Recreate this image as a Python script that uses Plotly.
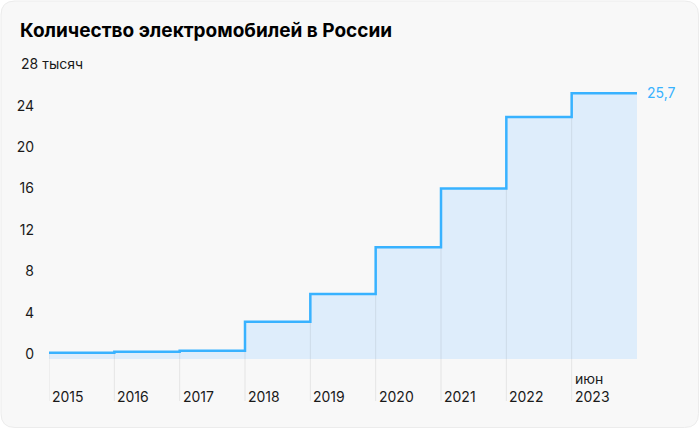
import plotly.graph_objects as go

years = ["2015", "2016", "2017", "2018", "2019", "2020", "2021", "2022", "июн<br>2023"]
cars = [0.6, 0.7, 0.8, 3.6, 6.3, 10.8, 16.5, 23.4, 25.7]  # тысяч
ytick_vals = [0, 4, 8, 12, 16, 20, 24]
top_label = "28 тысяч"
last_label = "25,7"

W, H = 700, 429
ML, MR, MT, MB = 49, 63, 60, 28
Y_MIN, Y_MAX = -4.06, 28.92

LINE = "#38b2ff"
FILL = "#deedfb"
TEXT = "#1a1a1a"
FONT = "Inter"

x = list(range(len(cars) + 1))
y = cars + [cars[-1]]

fig = go.Figure()

# area under the steps
fig.add_trace(go.Scatter(
    x=x, y=y, mode="lines", line=dict(width=0, shape="hv"),
    fill="tozeroy", fillcolor=FILL, hoverinfo="skip", showlegend=False
))

# vertical separators from step down below the axis
gx, gy = [], []
for i, v in enumerate(cars):
    gx += [i, i, None]
    gy += [v, Y_MIN, None]
fig.add_trace(go.Scatter(
    x=gx, y=gy, mode="lines", line=dict(width=1, color="rgba(0,0,0,0.08)"),
    hoverinfo="skip", showlegend=False
))

# step line
fig.add_trace(go.Scatter(
    x=x, y=y, mode="lines", line=dict(width=2.5, color=LINE, shape="hv"),
    showlegend=False
))

# year labels
for i, t in enumerate(years):
    fig.add_annotation(x=i, y=Y_MIN, text=t, showarrow=False, xanchor="left", yanchor="bottom",
                       xshift=1, yshift=-6, align="left", font=dict(size=14, color=TEXT, family=FONT))

fig.add_annotation(x=len(cars), y=cars[-1], text=last_label, showarrow=False, xanchor="left",
                   xshift=8, yshift=1, font=dict(size=14, color=LINE, family=FONT))

fig.add_annotation(xref="paper", yref="y", x=0, y=28, text=top_label, showarrow=False,
                   xanchor="left", yanchor="bottom", xshift=-30, yshift=-4,
                   font=dict(size=14, color=TEXT, family=FONT))

# card background with rounded corners
pw, ph = W - ML - MR, H - MT - MB
def px(v): return (v - ML) / pw
def py(v): return (H - MB - v) / ph
x0, x1, y0, y1, r = 1, 698.5, 1, 427.5, 14
path = (f"M {px(x0 + r)} {py(y0)} L {px(x1 - r)} {py(y0)} Q {px(x1)} {py(y0)} {px(x1)} {py(y0 + r)} "
        f"L {px(x1)} {py(y1 - r)} Q {px(x1)} {py(y1)} {px(x1 - r)} {py(y1)} "
        f"L {px(x0 + r)} {py(y1)} Q {px(x0)} {py(y1)} {px(x0)} {py(y1 - r)} "
        f"L {px(x0)} {py(y0 + r)} Q {px(x0)} {py(y0)} {px(x0 + r)} {py(y0)} Z")
fig.add_shape(type="path", path=path, xref="paper", yref="paper", layer="below",
              fillcolor="#f8f8f8", line=dict(color="#ececec", width=1))

fig.update_layout(
    width=W, height=H,
    margin=dict(l=ML, r=MR, t=MT, b=MB),
    paper_bgcolor="white", plot_bgcolor="rgba(0,0,0,0)",
    title=dict(text="<b>Количество электромобилей в России</b>", x=20 / W, xanchor="left",
               y=1 - 30 / H, yanchor="middle", font=dict(size=19, color="black", family=FONT)),
    xaxis=dict(range=[0, len(cars)], showgrid=False, zeroline=False, showticklabels=False, fixedrange=True),
    yaxis=dict(range=[Y_MIN, Y_MAX], tickvals=ytick_vals, showgrid=False, zeroline=False,
               ticklabelstandoff=14, ticklabelshift=-5, tickfont=dict(size=14, color=TEXT, family=FONT)),
)

# page has a default 8px body margin; drop it so the figure sits at the corner
fig.write_html("out.html", config={"displayModeBar": False},
               post_script="document.body.style.margin='0';")
